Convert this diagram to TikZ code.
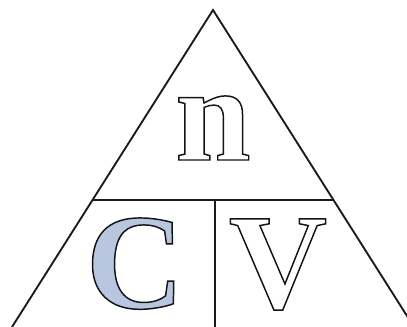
\documentclass[tikz,border=0pt]{standalone}
\usepackage{fontspec}
\setmainfont{Liberation Serif}
\usepackage{tikz}
\usetikzlibrary{calc}
\definecolor{lineDark}{HTML}{1A1A1A}
\definecolor{fillBlue}{HTML}{B9C6E0}
% outlined letter: fill colour (rgb) then text
\newcommand{\hollowChar}[2]{\special{pdf:literal direct 2 Tr 1.1 w #1 rg 0.08 0.08 0.08 RG}#2\special{pdf:literal direct 0 Tr}}

\begin{document}
\begin{tikzpicture}[x=0.75pt, y=-0.75pt,
    letter/.style={anchor=base, inner sep=0pt, font=\fontsize{102}{102}\selectfont\bfseries}]
  \useasboundingbox (0,0) rectangle (407,327);
  \clip (0,0) rectangle (407,327);
  \coordinate (apex) at (213,10);
  \coordinate (baseL) at (12,327);
  \coordinate (baseR) at (414,327);
  \coordinate (midL) at ($(apex)!0.599!(baseL)$);
  \coordinate (midR) at ($(apex)!0.599!(baseR)$);
  \coordinate (splitT) at (215,200);
  \coordinate (splitB) at (215,327);
  \draw[lineDark, line width=1.4pt] (baseL) -- (apex) -- (baseR);
  \draw[lineDark, line width=1.4pt] (midL) -- (midR);
  \draw[lineDark, line width=1.4pt] (splitT) -- (splitB);
  % letters
  \node[letter] (nLetter) at (213,160) {\hollowChar{1 1 1}{n}};
  \node[letter] (cLetter) at (135,308) {\hollowChar{0.725 0.776 0.878}{C}};
  \node[letter] (vLetter) at (278,308) {\hollowChar{1 1 1}{V}};
\end{tikzpicture}
\end{document}
